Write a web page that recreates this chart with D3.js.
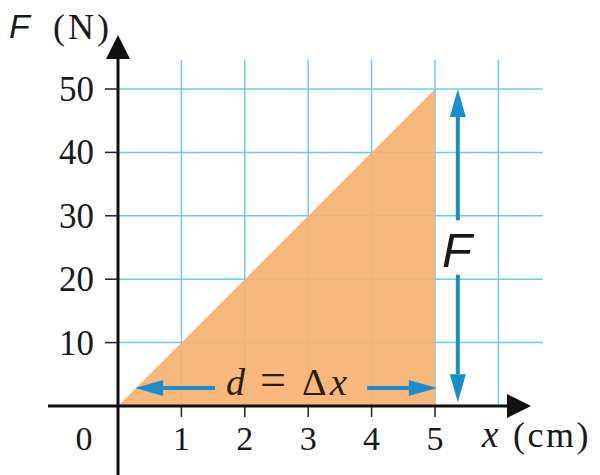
<!DOCTYPE html>
<html>
<head>
<meta charset="utf-8">
<script src="https://cdn.jsdelivr.net/npm/d3@7"></script>
</head>
<body style="margin:0; background:#fff">
<div id="chart"></div>
<script>
// values
var xTicks = [1, 2, 3, 4, 5]          // x in cm
var yTicks = [10, 20, 30, 40, 50]     // F in N
var gridX = [1, 2, 3, 4, 5, 6]
var gridY = [10, 20, 30, 40, 50]
var area = [[0, 0], [5, 50], [5, 0]]  // F rises linearly to 50 N at 5 cm

var w = 600, h = 475
var serif = "'Liberation Serif', 'Times New Roman', serif"
var sans = "'Liberation Sans', Arial, sans-serif"
var ink = '#1a1a1a'

var svg = d3.select('#chart').append('svg')
    .attr('width', w)
    .attr('height', h)

var x = d3.scaleLinear().domain([0, 5]).range([118, 435])
var y = d3.scaleLinear().domain([0, 50]).range([406, 89])

var blue = '#1b8dca'

// grid
var grid = svg.append('g')
    .attr('stroke', '#6cc9ef')
    .attr('stroke-width', 1.5)

grid.selectAll('.gx')
  .data(gridX)
  .enter().append('line')
    .attr('x1', function(d) {return x(d)})
    .attr('x2', function(d) {return x(d)})
    .attr('y1', y(54.6))
    .attr('y2', y(0))

grid.selectAll('.gy')
  .data(gridY)
  .enter().append('line')
    .attr('x1', x(0))
    .attr('x2', x(6.7))
    .attr('y1', function(d) {return y(d)})
    .attr('y2', function(d) {return y(d)})

// work area
svg.append('path')
    .datum(area)
    .attr('d', d3.line().x(function(d) {return x(d[0])}).y(function(d) {return y(d[1])}))
    .attr('fill', '#f6b173')
    .attr('fill-opacity', 0.93)

// axes
svg.append('line')
    .attr('x1', 48).attr('x2', 512)
    .attr('y1', y(0)).attr('y2', y(0))
    .attr('stroke', '#111').attr('stroke-width', 3)
svg.append('path')
    .attr('d', 'M507,394 L531,' + y(0) + ' L507,418 Z')
    .attr('fill', '#111')

svg.append('line')
    .attr('x1', x(0)).attr('x2', x(0))
    .attr('y1', 475).attr('y2', 54)
    .attr('stroke', '#111').attr('stroke-width', 3)
svg.append('path')
    .attr('d', 'M' + (x(0) - 12) + ',59 L' + x(0) + ',35 L' + (x(0) + 12) + ',59 Z')
    .attr('fill', '#111')

// ticks
svg.selectAll('.ytick')
  .data(yTicks)
  .enter().append('line')
    .attr('x1', 105).attr('x2', x(0))
    .attr('y1', function(d) {return y(d)})
    .attr('y2', function(d) {return y(d)})
    .attr('stroke', '#222').attr('stroke-width', 1.5)

svg.selectAll('.xtick')
  .data(xTicks)
  .enter().append('line')
    .attr('x1', function(d) {return x(d)})
    .attr('x2', function(d) {return x(d)})
    .attr('y1', y(0)).attr('y2', 417)
    .attr('stroke', '#222').attr('stroke-width', 1.5)

svg.selectAll('.ylab')
  .data(yTicks)
  .enter().append('text')
    .attr('x', 94)
    .attr('y', function(d) {return y(d) + 12})
    .attr('text-anchor', 'end')
    .attr('font-size', 35)
    .style('font-family', serif).style('fill', ink)
    .text(function(d) {return d})

svg.selectAll('.xlab')
  .data(xTicks)
  .enter().append('text')
    .attr('x', function(d) {return x(d)})
    .attr('y', 450)
    .attr('text-anchor', 'middle')
    .attr('font-size', 34)
    .style('font-family', serif).style('fill', ink)
    .text(function(d) {return d})

svg.append('text')
    .attr('x', 84).attr('y', 450)
    .attr('text-anchor', 'middle')
    .attr('font-size', 34)
    .style('font-family', serif).style('fill', ink)
    .text('0')

// axis titles
svg.append('text')
    .attr('x', 9).attr('y', 38)
    .attr('font-size', 34)
    .style('font-family', sans).style('font-style', 'italic').style('fill', ink)
    .text('F')
svg.append('text')
    .attr('x', 53).attr('y', 39)
    .attr('font-size', 36)
    .attr('letter-spacing', 3)
    .style('font-family', serif).style('fill', ink)
    .text('(N)')

svg.append('text')
    .attr('x', 482).attr('y', 447)
    .attr('font-size', 37)
    .style('font-family', serif).style('font-style', 'italic').style('fill', ink)
    .text('x')
svg.append('text')
    .attr('x', 513).attr('y', 447)
    .attr('font-size', 36)
    .attr('letter-spacing', 2.5)
    .style('font-family', serif).style('fill', ink)
    .text('(cm)')

// blue arrows
function arrow(x1, y1, x2, y2) {
  var ang = Math.atan2(y2 - y1, x2 - x1)
  var len = 28, half = 8
  var bx = x2 - len * Math.cos(ang), by = y2 - len * Math.sin(ang)
  svg.append('line')
      .attr('x1', x1).attr('y1', y1)
      .attr('x2', bx).attr('y2', by)
      .attr('stroke', blue).attr('stroke-width', 4)
  svg.append('path')
      .attr('d', 'M' + x2 + ',' + y2 +
        ' L' + (bx + half * Math.sin(ang)) + ',' + (by - half * Math.cos(ang)) +
        ' L' + (bx - half * Math.sin(ang)) + ',' + (by + half * Math.cos(ang)) + ' Z')
      .attr('fill', blue)
}

arrow(x(5.36), y(29.3), x(5.36), y(50))
arrow(x(5.36), y(20.7), x(5.36), y(0.6))
arrow(x(1.53), y(2.84), x(0.27), y(2.84))
arrow(x(3.93), y(2.84), x(5.03), y(2.84))

svg.append('text')
    .attr('x', 442).attr('y', 267)
    .attr('font-size', 49)
    .style('font-family', sans).style('font-style', 'italic').style('fill', ink)
    .text('F')

var dt = svg.append('text').attr('y', 395).attr('font-size', 38)
    .style('font-family', serif).style('fill', '#2a1c0c')
dt.append('tspan').attr('x', 226).style('font-style', 'italic').text('d')
dt.append('tspan').attr('x', 260).attr('font-size', 46).text('=')
dt.append('tspan').attr('x', 302).text('Δ')
dt.append('tspan').attr('x', 330).style('font-style', 'italic').text('x')
</script>
</body>
</html>
